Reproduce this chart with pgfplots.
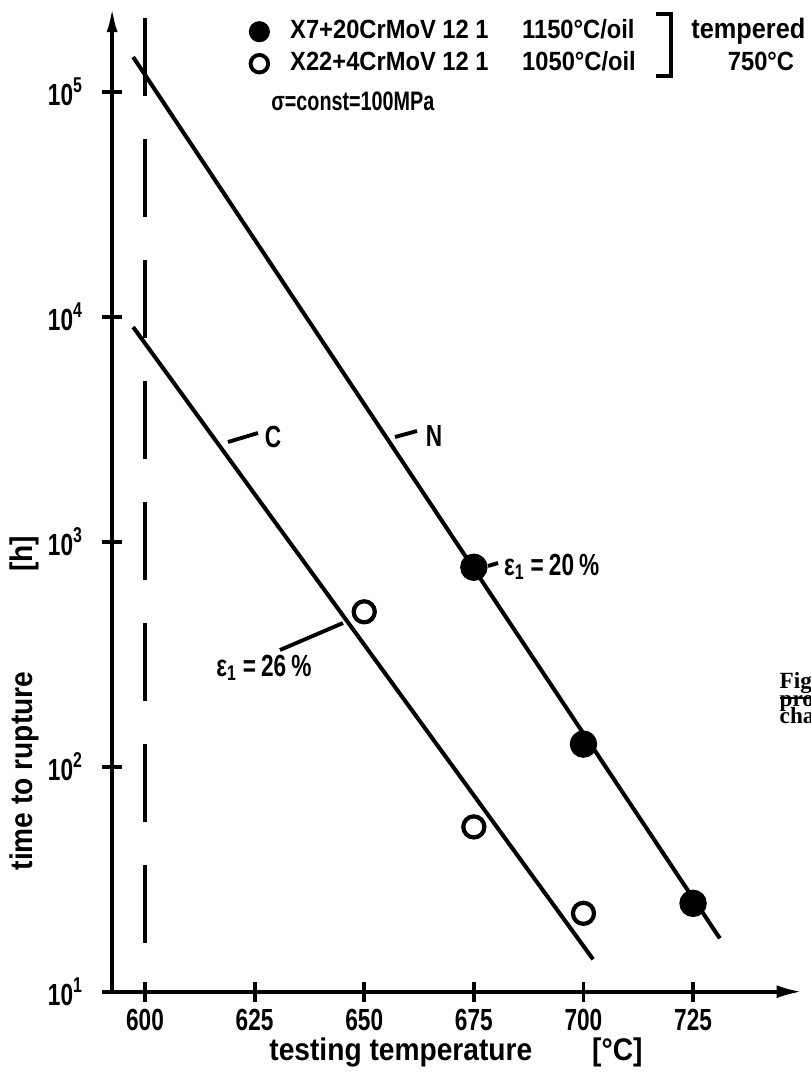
\documentclass[border=0pt]{standalone}
\usepackage{fontspec}
\setmainfont{Liberation Sans}[FakeStretch=0.74]
\newfontfamily\legfont{Liberation Sans}[FakeStretch=0.9]
\newfontfamily\capfont{Liberation Serif}
\usepackage{pgfplots}
\pgfplotsset{compat=1.18}
\usetikzlibrary{arrows.meta}

\newcommand{\lab}{\fontsize{8.7}{10}\selectfont\bfseries}
\newcommand{\leg}{\legfont\fontsize{7.5}{8}\selectfont\bfseries}
\newcommand{\sig}{\rmfamily\fontsize{7.6}{8}\selectfont\bfseries}
\newcommand{\ttl}{\legfont\fontsize{8.9}{10}\selectfont\bfseries}

\begin{document}
\begin{tikzpicture}
% pixel-style helper frame: origin at the top-left corner of the figure
\tikzset{px/.style={x=0.1mm,y=-0.1mm,shift={(-11.21mm,99.17mm)}}}
\useasboundingbox (-11.21mm,-8.13mm) rectangle (69.79mm,99.17mm);

\begin{axis}[
  at={(0,0)}, anchor=south west,
  scale only axis, width=69.06mm, height=98.55mm,
  xmin=592.5, xmax=750,
  ymode=log, ymin=10, ymax=239883,
  axis lines*=left, axis line style={draw=none},
  xtick={600,625,650,675,700,725},
  xticklabels={600,625,650,675,700,725},
  ytick={10,100,1000,10000,100000},
  yticklabels={10\textsuperscript{1},10\textsuperscript{2},10\textsuperscript{3},10\textsuperscript{4},10\textsuperscript{5}},
  yminorticks=false,
  tick align=center, major tick length=2mm,
  every tick/.style={black, line width=1.1pt},
  tick label style={font=\lab},
  xticklabel style={yshift=0.5mm},
  yticklabel style={xshift=-0.6mm},
  clip=false,
  legend style={at={(0.198,0.986)}, anchor=north west, draw=none, fill=none,
    inner sep=0pt, row sep=1.0mm, font=\leg,
    nodes={inner sep=0pt, text height=1.8mm, text depth=0.4mm}},
  legend cell align=left,
  legend image code/.code={\draw[#1] plot coordinates {(0.12cm,0cm)};},
]
% fitted rupture-time lines
\addplot[forget plot, line width=1.15pt] coordinates {(597.3,142600) (731.1,17.26)};
\addplot[forget plot, line width=1.15pt] coordinates {(597.3,8995) (702.2,13.93)};
% 600 C reference line
\addplot[forget plot, line width=1.15pt, dash pattern=on 7.8mm off 4.3mm]
  coordinates {(600,212600) (600,16.13)};
% measured points
\addplot[forget plot, only marks, mark=*, mark size=3.7pt, black]
  coordinates {(675,770) (700,126) (725,24.7)};
\addplot[forget plot, only marks, mark=o, mark size=3.0pt, black, mark options={line width=1.2pt}]
  coordinates {(650,488) (675,54) (700,22.3)};

\addlegendimage{only marks, mark=*, mark size=2.8pt, black}
\addlegendimage{only marks, mark=o, mark size=2.5pt, black, mark options={line width=1.1pt}}
\legend{\hspace*{2.1mm}\makebox[23.2mm][l]{X7+20CrMoV 12 1}1150°C/oil,
        \hspace*{2.1mm}\makebox[23.2mm][l]{X22+4CrMoV 12 1}1050°C/oil}

% axes with arrow heads
\draw[line width=1.15pt, -{Latex[length=2.6mm,width=1.3mm]}]
  (axis cs:590.3,10) -- (axis cs:750,10);
\draw[line width=1.15pt, -{Latex[length=2.6mm,width=1.1mm]}]
  (axis cs:592.5,10) -- (axis cs:592.5,239883);
\end{axis}

\begin{scope}[px, font=\lab]
  % bracket grouping the two heat treatments
  \draw[line width=1.1pt] (656,14) -- (671,14) -- (671,76) -- (656,76);
  \node[anchor=west, font=\legfont\fontsize{8}{8}\selectfont\bfseries] at (679,31) {tempered};
  \node[font=\leg] at (761,61) {750°C};
  \node[anchor=west, font=\sig] at (259,101) {σ=const=100MPa};
  % line labels
  \draw[line width=1.1pt] (228,442) -- (258,433);
  \node at (273,437) {C};
  \draw[line width=1.1pt] (395,437) -- (417,431);
  \node at (434,436) {N};
  \draw[line width=1.1pt] (488,566) -- (498,563);
  \node[anchor=west, inner sep=1pt] at (500,567) {ε\textsubscript{1}\,=\,20\,\%};
  \draw[line width=1.1pt] (343,623) -- (280,650);
  \node at (264,668) {ε\textsubscript{1}\,=\,26\,\%};
  % axis titles
  \node[font=\ttl] at (456,1052) {testing temperature\hspace{6mm}[°C]};
  \node[rotate=90, font=\ttl] at (24,703) {time to rupture\hspace{10mm}[h]};
  % caption fragment at the right edge
  \begin{scope}[every node/.style={anchor=base west, inner sep=0pt,
      font=\capfont\bfseries\fontsize{6.6}{7}\selectfont}]
    \node at (779,688) {\underline{Fig. 4}};
    \node at (779,706) {properties};
    \node at (779,723) {changes};
  \end{scope}
\end{scope}
\end{tikzpicture}
\end{document}
